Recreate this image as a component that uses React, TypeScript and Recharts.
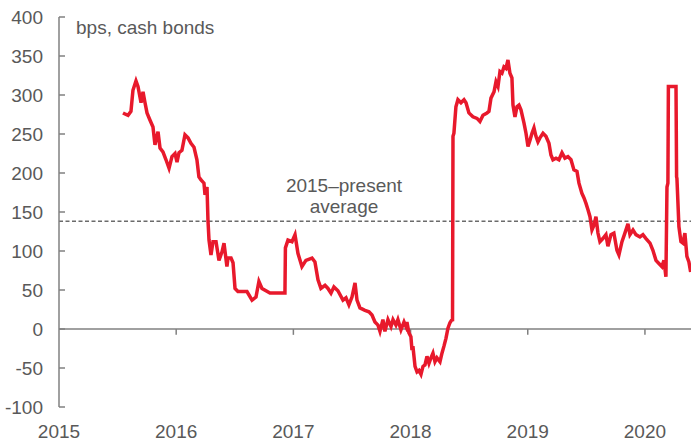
import { LineChart, Line, XAxis, YAxis, ReferenceLine, Label } from 'recharts'

// decimal year of each reading
const dates = [
  2015.546, 2015.572, 2015.589, 2015.614, 2015.631, 2015.657, 2015.674, 2015.7, 2015.717, 2015.734,
  2015.751, 2015.776, 2015.802, 2015.819, 2015.845, 2015.862, 2015.887, 2015.913, 2015.939, 2015.964,
  2015.99, 2016.007, 2016.024, 2016.049, 2016.075, 2016.101, 2016.126, 2016.152, 2016.177, 2016.194,
  2016.212, 2016.237, 2016.246, 2016.263, 2016.271, 2016.28, 2016.297, 2016.314, 2016.34, 2016.365,
  2016.391, 2016.408, 2016.433, 2016.442, 2016.468, 2016.485, 2016.502, 2016.527, 2016.604, 2016.647,
  2016.681, 2016.706, 2016.732, 2016.766, 2016.8, 2016.928, 2016.932, 2016.954, 2016.988, 2017.014,
  2017.039, 2017.073, 2017.107, 2017.159, 2017.184, 2017.21, 2017.235, 2017.27, 2017.295, 2017.321,
  2017.346, 2017.38, 2017.423, 2017.449, 2017.474, 2017.5, 2017.526, 2017.543, 2017.568, 2017.611,
  2017.645, 2017.671, 2017.696, 2017.722, 2017.739, 2017.764, 2017.781, 2017.807, 2017.833, 2017.85,
  2017.875, 2017.892, 2017.918, 2017.944, 2017.961, 2017.969, 2017.986, 2018.003, 2018.012, 2018.02,
  2018.029, 2018.038, 2018.055, 2018.072, 2018.089, 2018.106, 2018.123, 2018.14, 2018.157, 2018.174,
  2018.191, 2018.208, 2018.225, 2018.251, 2018.268, 2018.285, 2018.302, 2018.319, 2018.336, 2018.353,
  2018.358, 2018.362, 2018.37, 2018.387, 2018.404, 2018.43, 2018.456, 2018.473, 2018.498, 2018.532,
  2018.567, 2018.592, 2018.618, 2018.652, 2018.669, 2018.686, 2018.712, 2018.729, 2018.746, 2018.763,
  2018.78, 2018.797, 2018.814, 2018.831, 2018.848, 2018.865, 2018.874, 2018.891, 2018.908, 2018.925,
  2018.942, 2018.968, 2018.985, 2019.002, 2019.019, 2019.036, 2019.053, 2019.07, 2019.087, 2019.104,
  2019.13, 2019.155, 2019.181, 2019.198, 2019.215, 2019.241, 2019.266, 2019.292, 2019.317, 2019.343,
  2019.369, 2019.394, 2019.42, 2019.437, 2019.462, 2019.48, 2019.497, 2019.514, 2019.531, 2019.548,
  2019.565, 2019.582, 2019.599, 2019.616, 2019.641, 2019.667, 2019.684, 2019.71, 2019.735, 2019.761,
  2019.778, 2019.804, 2019.829, 2019.855, 2019.872, 2019.898, 2019.923, 2019.957, 2019.983, 2020.009,
  2020.043, 2020.068, 2020.094, 2020.119, 2020.145, 2020.162, 2020.179, 2020.188, 2020.196, 2020.2,
  2020.265, 2020.27, 2020.273, 2020.29, 2020.307, 2020.324, 2020.341, 2020.358, 2020.375, 2020.39,
]

// spread, bps
const spread = [
  277, 275, 274, 279, 306, 318, 311, 290, 304, 290,
  277, 268, 259, 236, 253, 232, 227, 217, 206, 221,
  225, 214, 226, 229, 249, 245, 238, 233, 217, 195,
  191, 187, 172, 182, 140, 114, 95, 112, 112, 88,
  99, 110, 80, 91, 91, 85, 52, 48, 48, 37,
  41, 61, 52, 49, 46, 46, 104, 114, 112, 121,
  97, 80, 88, 91, 86, 63, 52, 56, 52, 46,
  54, 49, 37, 40, 31, 41, 59, 37, 27, 24,
  22, 18, 9, 5, -3, 12, -3, 12, 3, 12,
  5, 12, -1, 9, 3, 9, -5, -10, -27, -22,
  -35, -48, -55, -53, -58, -48, -46, -35, -44, -37,
  -31, -42, -37, -42, -31, -22, -12, 1, 8, 12,
  10, 247, 251, 285, 294, 290, 294, 290, 277, 272,
  270, 266, 274, 277, 279, 296, 304, 317, 311, 330,
  328, 336, 334, 345, 328, 322, 287, 272, 285, 287,
  281, 264, 251, 234, 242, 251, 258, 247, 240, 245,
  251, 247, 238, 223, 217, 219, 217, 226, 219, 221,
  217, 204, 202, 187, 174, 168, 161, 153, 144, 127,
  133, 144, 123, 112, 116, 121, 106, 121, 123, 101,
  95, 112, 123, 135, 121, 127, 121, 118, 121, 116,
  110, 101, 88, 84, 80, 88, 67, 182, 187, 311,
  311, 195, 193, 131, 112, 110, 123, 93, 86, 73,
]

const yTicks = [-100, -50, 0, 50, 100, 150, 200, 250, 300, 350, 400]
const yearTicks = [2015, 2016, 2017, 2018, 2019, 2020]
const average = 138

const data = dates.map((t, i) => ({ t, v: spread[i] }))

const AXIS = '#808080'
const TEXT = '#595959'
const FONT = '"Liberation Sans", Arial, sans-serif'
const FS = 19

function YTick({ x, y, payload }: any) {
  return (
    <g>
      <text x={x} y={y} dy={6.5} textAnchor="end" fill={TEXT} fontSize={FS} fontFamily={FONT}>
        {payload.value}
      </text>
      <line x1={x + 16} x2={x + 22} y1={y} y2={y} stroke={AXIS} strokeWidth={1.5} />
    </g>
  )
}

function XTick({ x, y, payload }: any) {
  return (
    <text x={x} y={y + 31} textAnchor="middle" fill={TEXT} fontSize={FS} fontFamily={FONT}>
      {payload.value}
    </text>
  )
}

export default function App() {
  return (
    <div style={{ position: 'absolute', left: 0, top: 0, background: '#fff' }}>
      <LineChart width={691} height={441} data={data} margin={{ top: 17, right: 0, left: 0, bottom: 0 }}>
        <XAxis
          dataKey="t"
          type="number"
          domain={[2015, 2020.393]}
          ticks={yearTicks}
          tick={<XTick />}
          axisLine={false}
          tickLine={false}
          tickSize={0}
          tickMargin={0}
          height={34}
          interval={0}
        />
        <YAxis
          type="number"
          domain={[-100, 400]}
          ticks={yTicks}
          tick={<YTick />}
          tickLine={false}
          tickSize={0}
          tickMargin={16}
          width={59}
          interval={0}
          axisLine={{ stroke: AXIS, strokeWidth: 1.5 }}
        >
          <Label
            content={({ viewBox }: any) => (
              <text x={viewBox.x + 76} y={viewBox.y + 17} fill={TEXT} fontSize={FS} fontFamily={FONT}>
                bps, cash bonds
              </text>
            )}
          />
        </YAxis>
        <ReferenceLine y={0} stroke={AXIS} strokeWidth={1.5} />
        {yearTicks.slice(1).map(yr => (
          <ReferenceLine
            key={yr}
            segment={[{ x: yr, y: 0 }, { x: yr, y: -7.5 }]}
            stroke={AXIS}
            strokeWidth={1.5}
          />
        ))}
        <ReferenceLine y={average} stroke="#6b6b6b" strokeWidth={1.5} strokeDasharray="4 2.5">
          <Label
            content={({ viewBox }: any) => (
              <g fill={TEXT} fontSize={FS} fontFamily={FONT}>
                <text x={viewBox.x + 285} y={viewBox.y - 29} textAnchor="middle">2015–present</text>
                <text x={viewBox.x + 285} y={viewBox.y - 8} textAnchor="middle">average</text>
              </g>
            )}
          />
        </ReferenceLine>
        <Line
          type="linear"
          dataKey="v"
          stroke="#E8192C"
          strokeWidth={3.5}
          dot={false}
          isAnimationActive={false}
        />
      </LineChart>
    </div>
  )
}
